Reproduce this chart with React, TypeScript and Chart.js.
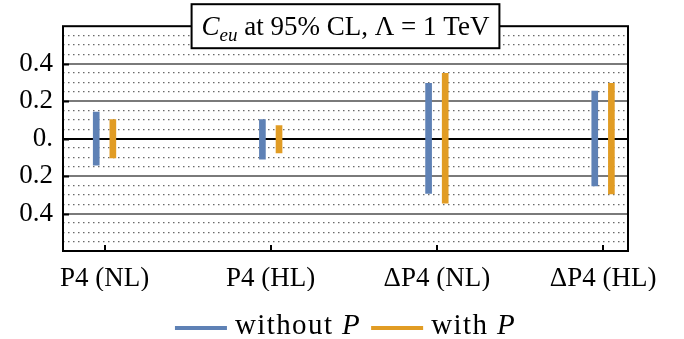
import React, { useEffect, useRef } from 'react';
import { Chart, registerables } from 'chart.js';

Chart.register(...registerables);

const categories = ['P4 (NL)', 'P4 (HL)', 'ΔP4 (NL)', 'ΔP4 (HL)'];
const categoryPositions = [1, 2, 3, 4];
const withoutPLow = [-0.142, -0.11, -0.292, -0.253];
const withoutPHigh = [0.141, 0.102, 0.295, 0.253];
const withPLow = [-0.103, -0.076, -0.345, -0.295];
const withPHigh = [0.102, 0.07, 0.348, 0.295];
const yTickValues = [-0.4, -0.2, 0, 0.2, 0.4];
const yTickLabels = ['0.4', '0.2', '0.', '0.2', '0.4'];
const seriesNames = ['without', 'with'];
const seriesColors = ['#5E81B5', '#E19C24'];

const FONT = 'Liberation Serif';
const FS = 27;
const LEG_FS = 29;

function isMajor(v: number) {
  return yTickValues.some((t) => Math.abs(t - v) < 1e-6);
}

const overlayPlugin = {
  id: 'overlay',
  beforeDraw(chart: any) {
    const { ctx, width, height } = chart;
    ctx.save();
    ctx.fillStyle = '#fff';
    ctx.fillRect(0, 0, width, height);
    ctx.restore();
  },
  afterDraw(chart: any) {
    const { ctx, chartArea } = chart;
    const xs = chart.scales.x;
    const ys = chart.scales.y;
    ctx.save();
    // inward ticks
    ctx.strokeStyle = '#000';
    ctx.lineWidth = 2;
    yTickValues.forEach((v) => {
      const py = Math.round(ys.getPixelForValue(v)) + 0.5;
      ctx.beginPath();
      ctx.moveTo(chartArea.left, py);
      ctx.lineTo(chartArea.left + 6, py);
      ctx.stroke();
    });
    categoryPositions.forEach((v) => {
      const px = Math.round(xs.getPixelForValue(v));
      ctx.beginPath();
      ctx.moveTo(px, chartArea.bottom);
      ctx.lineTo(px, chartArea.bottom - 6);
      ctx.stroke();
    });
    // frame
    ctx.lineWidth = 2;
    ctx.strokeRect(chartArea.left, chartArea.top, chartArea.right - chartArea.left, chartArea.bottom - chartArea.top);

    // title box
    const cx = (chartArea.left + chartArea.right) / 2;
    const parts: [string, string, number][] = [
      ['C', 'italic', 0],
      ['eu', 'italic-sub', 6],
      [' at 95% CL, Λ = 1 TeV', 'normal', 0],
    ];
    const fontFor = (style: string) =>
      style === 'italic' ? `italic ${FS}px ${FONT}` : style === 'italic-sub' ? `italic ${Math.round(FS * 0.7)}px ${FONT}` : `${FS}px ${FONT}`;
    let tw = 0;
    const widths = parts.map(([t, s]) => {
      ctx.font = fontFor(s);
      const w = ctx.measureText(t).width;
      tw += w;
      return w;
    });
    const padX = 10;
    const boxW = tw + padX * 2;
    const boxH = 44;
    const bx = cx - boxW / 2;
    const by = chartArea.top - boxH / 2;
    ctx.fillStyle = '#fff';
    ctx.fillRect(bx, by, boxW, boxH);
    ctx.strokeStyle = '#000';
    ctx.lineWidth = 2;
    ctx.strokeRect(bx, by, boxW, boxH);
    ctx.fillStyle = '#000';
    ctx.textBaseline = 'alphabetic';
    ctx.textAlign = 'left';
    let x = bx + padX;
    const base = by + boxH / 2 + 9;
    parts.forEach(([t, s, dy], i) => {
      ctx.font = fontFor(s);
      ctx.fillText(t, x, base + dy);
      x += widths[i];
    });

    // legend
    const lineLen = 52;
    const gapLT = 8;
    const gapItems = 10;
    const legY = 328;
    const legBase = 334;
    (ctx as any).letterSpacing = '1.4px';
    const items = seriesNames.map((name, i) => {
      ctx.font = `${LEG_FS}px ${FONT}`;
      const w1 = ctx.measureText(name + ' ').width;
      ctx.font = `italic ${LEG_FS}px ${FONT}`;
      const w2 = ctx.measureText('P').width;
      return { name, color: seriesColors[i], w1, w2, total: lineLen + gapLT + w1 + w2 };
    });
    const totalW = items.reduce((a, it) => a + it.total, 0) + gapItems * (items.length - 1);
    let lx = cx - totalW / 2;
    items.forEach((it) => {
      ctx.strokeStyle = it.color;
      ctx.lineWidth = 4;
      ctx.beginPath();
      ctx.moveTo(lx, legY);
      ctx.lineTo(lx + lineLen, legY);
      ctx.stroke();
      lx += lineLen + gapLT;
      ctx.fillStyle = '#000';
      ctx.font = `${LEG_FS}px ${FONT}`;
      ctx.fillText(it.name + ' ', lx, legBase);
      lx += it.w1;
      ctx.font = `italic ${LEG_FS}px ${FONT}`;
      ctx.fillText('P', lx, legBase);
      lx += it.w2 + gapItems;
    });
    ctx.restore();
  },
};

export default function App() {
  const ref = useRef<HTMLCanvasElement | null>(null);
  useEffect(() => {
    document.body.style.margin = '0';
    const canvas = ref.current!;
    const mk = (low: number[], high: number[], off: number) =>
      categoryPositions.map((p, i) => ({ x: p + off, y: [low[i], high[i]] }));
    const chart = new Chart(canvas, {
      type: 'bar',
      data: {
        datasets: [
          {
            label: seriesNames[0] + ' P',
            data: mk(withoutPLow, withoutPHigh, -0.05) as any,
            backgroundColor: seriesColors[0],
            barThickness: 6,
            grouped: false,
          } as any,
          {
            label: seriesNames[1] + ' P',
            data: mk(withPLow, withPHigh, 0.05) as any,
            backgroundColor: seriesColors[1],
            barThickness: 6,
            grouped: false,
          } as any,
        ],
      },
      options: {
        responsive: false,
        animation: false,
        devicePixelRatio: 1,
        layout: { padding: { top: 25, right: 56, left: 0, bottom: 48 } },
        plugins: { legend: { display: false }, tooltip: { enabled: false }, title: { display: false } },
        scales: {
          x: {
            type: 'linear',
            offset: false,
            bounds: 'data',
            min: 0.75,
            max: 4.15,
            afterBuildTicks: (s: any) => {
              s.ticks = categoryPositions.map((v) => ({ value: v }));
            },
            afterFit: (s: any) => {
              s.height = 40;
            },
            grid: { display: false, drawTicks: false, offset: false },
            border: { display: false },
            ticks: {
              autoSkip: false,
              maxRotation: 0,
              padding: 12,
              color: '#000',
              font: { family: FONT, size: FS },
              callback: (v: any) => {
                const i = categoryPositions.indexOf(Number(v));
                return i >= 0 ? categories[i] : '';
              },
            },
          },
          y: {
            type: 'linear',
            min: -0.6,
            max: 0.6,
            afterFit: (s: any) => {
              s.width = 63;
            },
            grid: {
              drawTicks: false,
              color: (c: any) => {
                const v = c.tick ? c.tick.value : 0;
                if (Math.abs(Math.abs(v) - 0.6) < 1e-6) return 'rgba(0,0,0,0)';
                if (Math.abs(v) < 1e-6) return '#000';
                if (isMajor(v)) return '#7a7a7a';
                return '#6a6a6a';
              },
              lineWidth: (c: any) => {
                const v = c.tick ? c.tick.value : 0;
                if (isMajor(v)) return 2;
                return 1.2;
              },
            },
            border: {
              display: false,
              dash: (c: any) => {
                const v = c.tick ? c.tick.value : 0;
                if (!c.tick || isMajor(v)) return [];
                return [1.5, 3.5];
              },
            },
            ticks: {
              autoSkip: false,
              stepSize: 0.05,
              padding: 10,
              color: '#000',
              font: { family: FONT, size: FS },
              callback: (v: any) => {
                const i = yTickValues.findIndex((t) => Math.abs(t - Number(v)) < 1e-6);
                return i >= 0 ? yTickLabels[i] : '';
              },
            },
          },
        },
      },
      plugins: [overlayPlugin],
    } as any);
    return () => chart.destroy();
  }, []);
  return (
    <div style={{ width: 684, height: 339 }}>
      <canvas ref={ref} width={684} height={339} style={{ display: 'block' }} />
    </div>
  );
}
